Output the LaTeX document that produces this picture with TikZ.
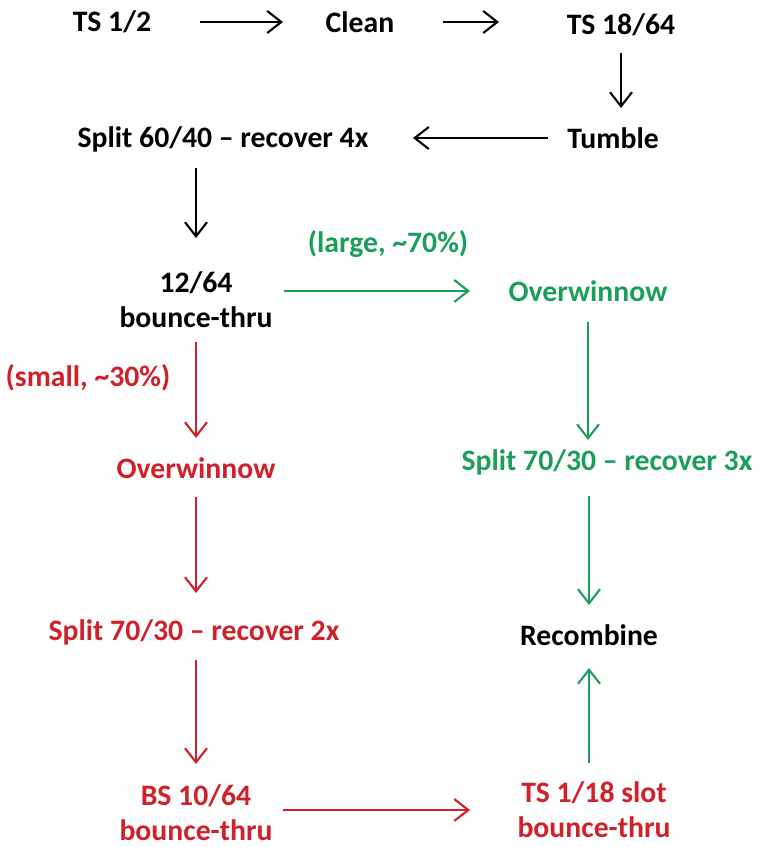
\documentclass[tikz,border=0pt]{standalone}
\usepackage{fontspec}
\setmainfont{Carlito}
\usetikzlibrary{arrows.meta}

\definecolor{flowred}{RGB}{208,32,42}
\definecolor{flowgreen}{RGB}{26,158,90}

\tikzset{
    lbl/.style={font=\fontsize{16.9}{19.9}\selectfont\bfseries, inner sep=0pt, align=center},
    flow/.style={line width=1.2pt, -{Straight Barb[length=8pt,width=12.5pt]}}
}

\begin{document}
\begin{tikzpicture}

    \useasboundingbox (0,0) rectangle (15.18,16.94);

    % Top row
    \node[lbl] (ts12) at (2.24,16.50) {TS 1/2};
    \node[lbl] (clean) at (7.20,16.50) {Clean};
    \node[lbl] (ts1864) at (12.42,16.44) {TS 18/64};
    \node[lbl] (tumble) at (12.26,14.18) {Tumble};
    \node[lbl] (split64) at (4.46,14.16) {Split 60/40 – recover 4x};

    % Middle
    \node[lbl] (b1264) at (3.92,10.94) {12/64\\bounce-thru};
    \node[lbl, flowgreen] (large) at (7.76,12.06) {(large, \textasciitilde70\%)};
    \node[lbl, flowred] (small) at (1.76,9.38) {(small, \textasciitilde30\%)};

    % Green branch
    \node[lbl, flowgreen] (ovg) at (11.76,11.12) {Overwinnow};
    \node[lbl, flowgreen] (splitg) at (12.14,7.70) {Split 70/30 – recover 3x};
    \node[lbl] (recomb) at (11.78,4.24) {Recombine};

    % Red branch
    \node[lbl, flowred] (ovr) at (3.92,7.58) {Overwinnow};
    \node[lbl, flowred] (splitr) at (3.88,4.30) {Split 70/30 – recover 2x};
    \node[lbl, flowred] (bs1064) at (3.92,0.68) {BS 10/64\\bounce-thru};
    \node[lbl, flowred] (ts118) at (11.88,0.74) {TS 1/18 slot\\bounce-thru};

    % Black arrows
    \draw[flow, shorten <=1.76cm, shorten >=1.54cm] (ts12.center) -- (clean.center);
    \draw[flow, shorten <=1.66cm, shorten >=2.44cm] (clean.center) -- (clean.center -| ts1864.center);
    \draw[flow, shorten <=0.56cm, shorten >=0.6cm] (ts1864.center) -- (ts1864.center |- tumble.center);
    \draw[flow, shorten <=1.3cm, shorten >=3.8cm] (tumble.center) -- (tumble.center -| split64.center);
    \draw[flow, shorten <=0.58cm, shorten >=1.24cm] (b1264.center |- split64.center) -- (b1264.center);

    % Green arrows
    \draw[flow, flowgreen, shorten <=1.76cm, shorten >=2.36cm] (ovg.center -| b1264.center) -- (ovg.center);
    \draw[flow, flowgreen, shorten <=0.62cm, shorten >=0.44cm] (ovg.center) -- (ovg.center |- splitg.center);
    \draw[flow, flowgreen, shorten <=0.68cm, shorten >=0.6cm] (recomb.center |- splitg.center) -- (recomb.center);
    \draw[flow, flowgreen, shorten <=0.94cm, shorten >=0.66cm] (recomb.center |- ts118.center) -- (recomb.center);

    % Red arrows
    \draw[flow, flowred, shorten <=0.84cm, shorten >=0.6cm] (b1264.center) -- (ovr.center);
    \draw[flow, flowred, shorten <=0.58cm, shorten >=0.78cm] (ovr.center) -- (ovr.center |- splitr.center);
    \draw[flow, flowred, shorten <=0.56cm, shorten >=0.98cm] (ovr.center |- splitr.center) -- (ovr.center |- bs1064.center);
    \draw[flow, flowred, shorten <=1.74cm, shorten >=2.48cm] (ts118.center -| bs1064.center) -- (ts118.center);

\end{tikzpicture}
\end{document}
